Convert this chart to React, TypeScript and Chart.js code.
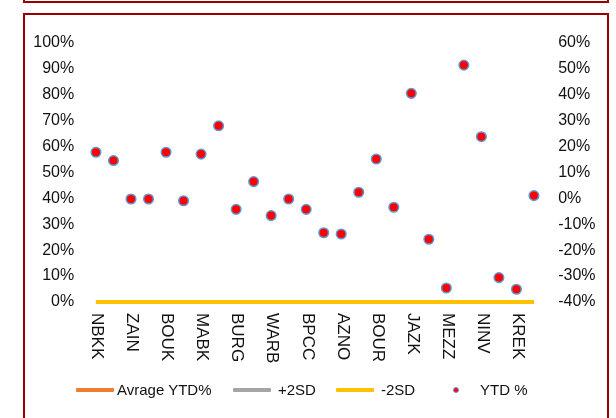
import React, { useEffect, useRef } from 'react';
import { Chart, registerables } from 'chart.js';

Chart.register(...registerables);

// ---- data ----
const categories = [
  'NBKK', 'GBKK', 'ZAIN', 'KFIN', 'BOUK', 'ABKK', 'MABK', 'AGLT', 'BURG', 'KIBK',
  'WARB', 'KPRO', 'BPCC', 'CBKK', 'AZNO', 'HUMN', 'BOUR', 'ALMR', 'JAZK', 'ALAF',
  'MEZZ', 'KFOU', 'NINV', 'SCEM', 'KREK', 'ALGK',
];
const ytdValues = [
  0.177, 0.145, -0.003, -0.003, 0.177, -0.010, 0.170, 0.279, -0.043, 0.064,
  -0.067, -0.003, -0.043, -0.133, -0.138, 0.023, 0.151, -0.035, 0.404, -0.158,
  -0.346, 0.513, 0.237, -0.306, -0.351, 0.010,
];
const avgValues = [0, 0, 0, 0, 0, 0, 0, 0, 0, 0, 0, 0, 0, 0, 0, 0, 0, 0, 0, 0, 0, 0, 0, 0, 0, 0];
const plus2sdValues = [0, 0, 0, 0, 0, 0, 0, 0, 0, 0, 0, 0, 0, 0, 0, 0, 0, 0, 0, 0, 0, 0, 0, 0, 0, 0];
const minus2sdValues = [0, 0, 0, 0, 0, 0, 0, 0, 0, 0, 0, 0, 0, 0, 0, 0, 0, 0, 0, 0, 0, 0, 0, 0, 0, 0];
const leftAxisRange = [0, 1];
const rightAxisRange = [-0.4, 0.6];
const seriesNames = ['Avrage YTD%', '+2SD', '-2SD', 'YTD %'];

const FONT = '"Liberation Sans", Arial, sans-serif';
const DARK_RED = '#990000';

const xLabelPlugin = {
  id: 'xLabelsRotated',
  afterDraw(chart: any) {
    const ctx = chart.ctx;
    const xs = chart.scales.x;
    ctx.save();
    ctx.font = `17px ${FONT}`;
    ctx.fillStyle = '#111';
    ctx.textAlign = 'left';
    ctx.textBaseline = 'middle';
    categories.forEach((c, i) => {
      if (i % 2 !== 0) return;
      const x = xs.getPixelForValue(i);
      ctx.save();
      ctx.translate(x + 1, chart.chartArea.bottom + 11);
      ctx.rotate(Math.PI / 2);
      ctx.fillText(c, 0, 0);
      ctx.restore();
    });
    ctx.restore();
  },
};

export default function App() {
  const canvasRef = useRef<HTMLCanvasElement | null>(null);

  useEffect(() => {
    if (!canvasRef.current) return;
    const pct = (v: any) => `${Math.round(Number(v) * 100)}%`;
    const chart = new Chart(canvasRef.current, {
      type: 'line',
      data: {
        labels: categories,
        datasets: [
          {
            label: seriesNames[3],
            data: ytdValues,
            yAxisID: 'y1',
            showLine: false,
            pointRadius: 4.8,
            pointBackgroundColor: '#FF0000',
            pointBorderColor: '#5B9BD5',
            pointBorderWidth: 1.5,
            clip: false,
            order: 0,
          },
          {
            label: seriesNames[2],
            data: minus2sdValues,
            yAxisID: 'y',
            borderColor: '#FFC000',
            borderWidth: 4,
            pointRadius: 0,
            clip: false,
            order: 1,
          },
          {
            label: seriesNames[1],
            data: plus2sdValues,
            yAxisID: 'y',
            borderColor: '#A5A5A5',
            borderWidth: 4,
            pointRadius: 0,
            clip: false,
            order: 2,
          },
          {
            label: seriesNames[0],
            data: avgValues,
            yAxisID: 'y',
            borderColor: '#ED7D31',
            borderWidth: 4,
            pointRadius: 0,
            clip: false,
            order: 3,
          },
        ],
      },
      options: {
        responsive: false,
        animation: false,
        layout: { padding: { left: 24, right: 0, top: 42.5, bottom: 116 } },
        plugins: { legend: { display: false }, tooltip: { enabled: false } },
        scales: {
          x: {
            type: 'category',
            offset: true,
            grid: { display: false, drawTicks: false },
            border: { display: false },
            ticks: { display: false },
            afterFit: (s: any) => { s.height = 0; },
          },
          y: {
            position: 'left',
            min: leftAxisRange[0],
            max: leftAxisRange[1],
            grid: { display: false, drawTicks: false },
            border: { display: false },
            ticks: {
              stepSize: 0.1,
              padding: 13,
              color: '#111',
              font: { family: FONT, size: 16 },
              callback: pct,
            },
            afterFit: (s: any) => { s.width = 63.2; },
          },
          y1: {
            position: 'right',
            min: rightAxisRange[0],
            max: rightAxisRange[1],
            grid: { display: false, drawTicks: false },
            border: { display: false },
            ticks: {
              stepSize: 0.1,
              padding: 15.5,
              color: '#111',
              font: { family: FONT, size: 16 },
              callback: pct,
            },
            afterFit: (s: any) => { s.width = 73.3; },
          },
        },
      },
      plugins: [xLabelPlugin],
    });
    return () => chart.destroy();
  }, []);

  const legendText: React.CSSProperties = {
    position: 'absolute',
    top: 381,
    font: `15px ${FONT}`,
    lineHeight: '18px',
    color: '#111',
    whiteSpace: 'nowrap',
  };
  const legendLine = (left: number, color: string): React.CSSProperties => ({
    position: 'absolute',
    left,
    top: 388,
    width: 38,
    height: 4,
    background: color,
    borderRadius: 1,
  });

  return (
    <div style={{ position: 'fixed', left: 0, top: 0, width: 616, height: 418, overflow: 'hidden', background: '#fff' }}>
      <div style={{ position: 'absolute', left: 23, top: -20, width: 586, height: 23, boxSizing: 'border-box', border: `2px solid ${DARK_RED}` }} />
      <div style={{ position: 'absolute', left: 23, top: 13, width: 586, height: 430, boxSizing: 'border-box', border: `2px solid ${DARK_RED}` }} />
      <canvas ref={canvasRef} width={616} height={418} style={{ position: 'absolute', left: 0, top: 0, width: 616, height: 418 }} />
      <div style={legendLine(76, '#ED7D31')} />
      <div style={{ ...legendText, left: 117 }}>{seriesNames[0]}</div>
      <div style={legendLine(233, '#A5A5A5')} />
      <div style={{ ...legendText, left: 278 }}>{seriesNames[1]}</div>
      <div style={legendLine(336, '#FFC000')} />
      <div style={{ ...legendText, left: 381 }}>{seriesNames[2]}</div>
      <div style={{ position: 'absolute', left: 453, top: 387, width: 4, height: 4, borderRadius: '50%', background: '#FF0000', border: '1px solid #5B9BD5' }} />
      <div style={{ ...legendText, left: 480 }}>{seriesNames[3]}</div>
    </div>
  );
}
